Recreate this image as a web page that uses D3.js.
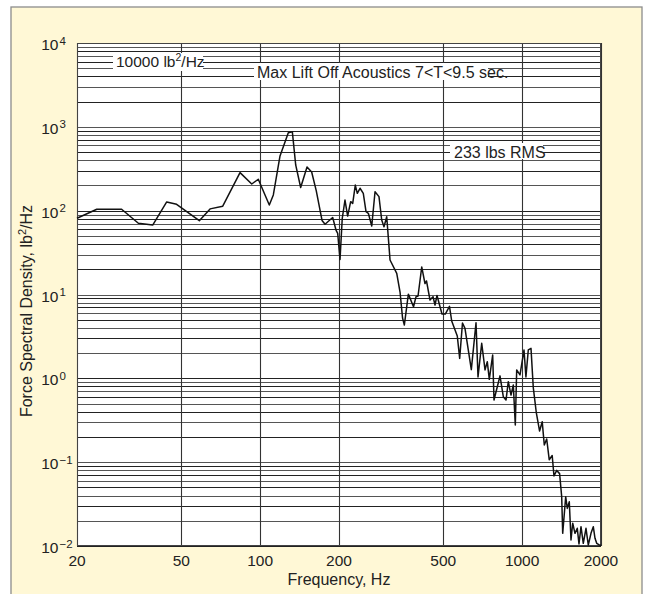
<!DOCTYPE html>
<html><head><meta charset="utf-8">
<script src="https://cdn.jsdelivr.net/npm/d3@7"></script>
<style>
html,body{margin:0;padding:0;background:#fff;}
svg text{font-family:"Liberation Sans",Arial,Helvetica,sans-serif;fill:#222;}
</style></head>
<body><svg id="c" width="645" height="594"></svg>
<script>
// Frequency (Hz) and force spectral density (lb^2/Hz)
const freq = [20,23.8,29.6,34.3,38.9,44.0,48.0,58.6,64.4,72.0,83.8,92.9,98.4,108.4,112.3,119.1,128.1,132.7,136.7,142.8,151,157.3,163.8,172.3,176.9,189.2,194.8,197.7,201.8,205.8,210.8,215.8,221.6,225.6,230.8,234.9,240.6,247.6,253.6,258.8,266.7,274.5,284.2,291.1,297,304.2,313.2,332.2,342,349.6,355.2,367.9,385,393.6,400.6,413.8,425.8,431.5,445,456.9,465,473.2,494.5,509,528.1,538.5,565.6,577.6,592,605.1,639.8,666.8,678.6,701,721.7,736.2,749.4,772,781,804,823.3,847.4,867.8,885.6,906.9,925.4,941.8,953.3,981.4,1016.6,1034,1055.6,1081,1103,1132.6,1165.8,1193,1215,1241,1268.8,1302.4,1323,1355,1390,1415.8,1428.4,1466.6,1487.4,1513.6,1536.4,1559.6,1591.6,1623.8,1648.2,1677.6,1711.6,1752.8,1788.6,1831.6,1869,1897.4,1926,1970,2000];
const psd = [81.1,104,104,70.7,67.4,127,119,75.9,105,113,284,208,237,117,154,449,851,875,351,189,332,289,172,76.4,68.9,82.8,58.7,53.7,26.1,81.1,134,86.3,128,122,202,161,185,161,97.2,93.1,65.6,168,147,77.4,64.4,84.7,25.8,17.9,10.7,5.25,4.33,10.1,7.15,9.42,9.6,21.3,13.5,14.5,8.6,9.42,7.5,9.73,5.85,5.85,7.23,4.83,3.2,1.73,4.57,3.95,1.27,4.6,1.04,2.62,1.26,1.58,0.973,1.9,0.551,0.794,1.07,0.604,0.551,0.912,0.632,0.832,0.277,1.26,1.1,2.18,1.04,2.18,2.28,0.776,0.391,0.235,0.304,0.16,0.189,0.107,0.12,0.0684,0.0798,0.073,0.0387,0.01416,0.0387,0.0281,0.0337,0.01178,0.01866,0.01416,0.01626,0.01057,0.017,0.01076,0.01626,0.01028,0.01416,0.017,0.01236,0.01076,0.01028,0.0102];
const xTicks = [20,50,100,200,500,1000,2000];
const xTickLabels = ["20","50","100","200","500","1000","2000"];
const yExponents = [4,3,2,1,0,-1,-2];
const title = "Max Lift Off Acoustics 7<T<9.5 sec.";
const rmsLabel = "233 lbs RMS";
const refLabel = "10000 lb";
const xTitle = "Frequency, Hz";
const yTitle = "Force Spectral Density, lb";

const svg = d3.select("#c");
const L=77,R=601,T=43,B=546;
const x = d3.scaleLog().domain([20,2000]).range([L,R]);
const y = d3.scaleLog().domain([0.01,10000]).range([B,T]);

// background frame
svg.append("rect").attr("x",0).attr("y",0).attr("width",645).attr("height",594).attr("fill","#fff");
svg.append("rect").attr("x",11).attr("y",7).attr("width",631).attr("height",600)
  .attr("fill","#fff8d6").attr("stroke","#8c8c8c").attr("stroke-width",1.3);

svg.append("rect").attr("x",L).attr("y",T).attr("width",R-L).attr("height",B-T).attr("fill","#fff");

// horizontal grid: every 1..9 x 10^k
const hvals=[];
for(let e=-2;e<4;e++){for(let m=1;m<10;m++){hvals.push(m*Math.pow(10,e));}}
hvals.push(10000);
const g = svg.append("g");
g.selectAll("line.h").data(hvals).join("line")
  .attr("x1",L).attr("x2",R)
  .attr("y1",d=>Math.round(y(d))+0.5).attr("y2",d=>Math.round(y(d))+0.5)
  .attr("stroke",(d,i)=> (i%2===0)?"#222":"#555").attr("stroke-width",1);
g.selectAll("line.v").data(xTicks).join("line")
  .attr("x1",d=>Math.round(x(d))+0.5).attr("x2",d=>Math.round(x(d))+0.5)
  .attr("y1",T).attr("y2",B).attr("stroke","#333").attr("stroke-width",1.1);
svg.append("rect").attr("x",L+0.5).attr("y",T+0.5).attr("width",R-L-1).attr("height",B-T-1)
  .attr("fill","none").attr("stroke","#444").attr("stroke-width",1);

// annotations with white backing
svg.append("rect").attr("x",113).attr("y",53).attr("width",90).attr("height",18).attr("fill","#fff");
const t1 = svg.append("text").attr("x",116).attr("y",67).attr("font-size",15.5);
t1.append("tspan").text(refLabel);
t1.append("tspan").attr("font-size",10.5).attr("dy",-6).text("2");
t1.append("tspan").attr("dy",6).text("/Hz");

svg.append("rect").attr("x",254).attr("y",63).attr("width",234).attr("height",17).attr("fill","#fff");
svg.append("text").attr("x",257).attr("y",77.5).attr("font-size",16).text(title);

svg.append("rect").attr("x",450).attr("y",143).attr("width",93).attr("height",16).attr("fill","#fff");
svg.append("text").attr("x",454).attr("y",157.5).attr("font-size",16).text(rmsLabel);

// data line
const line = d3.line().x((d,i)=>x(freq[i])).y(d=>y(d));
svg.append("path").attr("d",line(psd)).attr("fill","none")
  .attr("stroke","#111").attr("stroke-width",1.5).attr("stroke-linejoin","round");

// x tick labels
svg.selectAll("text.xt").data(xTicks).join("text")
  .attr("x",d=>x(d)).attr("y",565.5).attr("text-anchor","middle").attr("font-size",15.5)
  .text((d,i)=>xTickLabels[i]);
svg.append("text").attr("x",(L+R)/2).attr("y",585).attr("text-anchor","middle").attr("font-size",16).text(xTitle);

// y tick labels
yExponents.forEach(e=>{
  const yy=y(Math.pow(10,e));
  svg.append("text").attr("x",58.5).attr("y",yy+7).attr("text-anchor","end").attr("font-size",15.5).text("10");
  svg.append("text").attr("x",59.5).attr("y",yy+1.5).attr("font-size",11.5).text(e<0?"\u2212"+Math.abs(e):String(e));
});

// y title
const yt = svg.append("text").attr("transform","translate(32,311) rotate(-90)")
  .attr("text-anchor","middle").attr("font-size",16);
yt.append("tspan").text(yTitle);
yt.append("tspan").attr("font-size",11).attr("dy",-6).text("2");
yt.append("tspan").attr("dy",6).text("/Hz");
</script></body></html>
